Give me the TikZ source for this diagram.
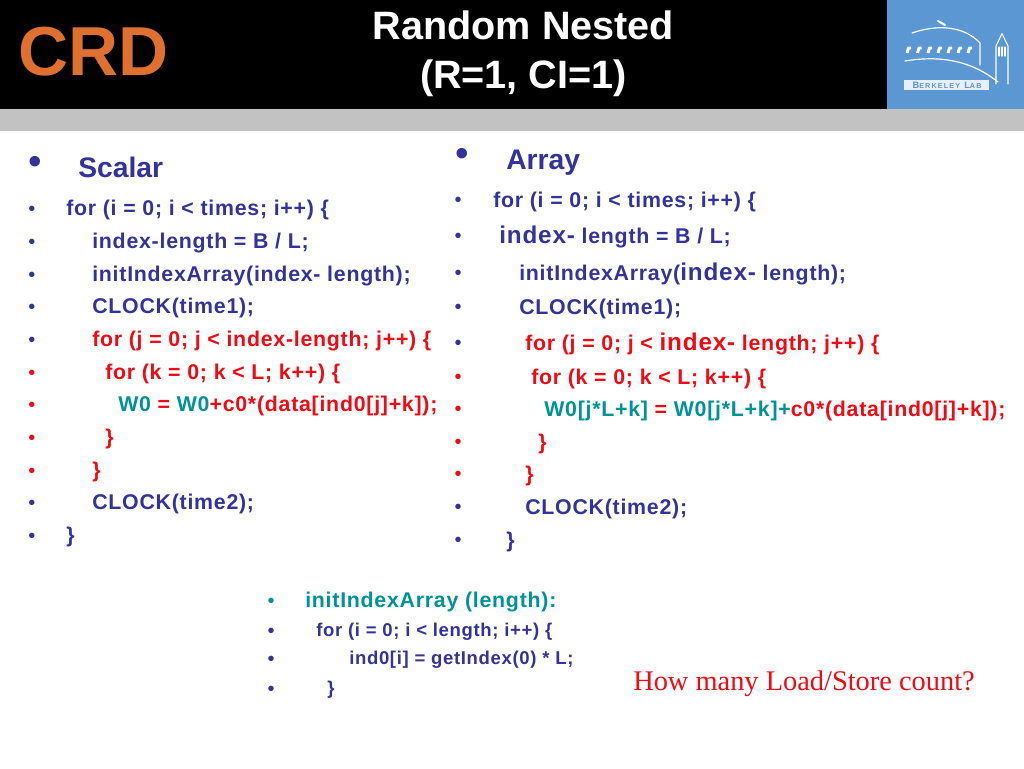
\documentclass[tikz,border=0pt]{standalone}
\usepackage{fontspec}
\setmainfont{Liberation Sans}
\newfontfamily\serifface{Liberation Serif}
\newfontfamily\codeface[LetterSpace=3.5]{Liberation Sans}
\newfontfamily\labface[LetterSpace=16]{Liberation Sans}
\definecolor{codeblue}{HTML}{333399}
\definecolor{codered}{HTML}{F00A14}
\definecolor{codeteal}{HTML}{009393}
\definecolor{crdorange}{HTML}{E0702F}
\definecolor{labblue}{HTML}{5B97D2}
\newcommand{\tl}[1]{\textcolor{codeteal}{#1}}
\newcommand{\bg}[1]{{\fontsize{18.2pt}{18pt}\selectfont #1}}
\newcommand{\sm}[1]{{\fontsize{5.4pt}{5.4pt}\selectfont #1}}
\tikzset{
  codetxt/.style={anchor=base west,inner sep=0pt,text=codeblue,font=\codeface\fontsize{16pt}{16pt}\selectfont\bfseries},
  redtxt/.style={codetxt,text=codered},
  smalltxt/.style={codetxt,font=\codeface\fontsize{13.9pt}{14pt}\selectfont\bfseries},
  headtxt/.style={codetxt,font=\fontsize{21.2pt}{21pt}\selectfont\bfseries},
  titletxt/.style={inner sep=0pt,anchor=base,text=white,font=\fontsize{29.7pt}{30pt}\selectfont\bfseries},
  dot/.style={anchor=center,inner sep=0pt,yshift=-2pt,font=\fontsize{15pt}{15pt}\selectfont},
  bigdot/.style={anchor=center,inner sep=0pt,yshift=-3pt,text=codeblue,font=\fontsize{29pt}{29pt}\selectfont},
  logoline/.style={draw=white,line cap=round,line join=round}
}
\begin{document}
\begin{tikzpicture}[x=0.75pt,y=0.75pt]
  \useasboundingbox (0,0) rectangle (1024,-768);
  \fill[white] (0,0) rectangle (1024,-768);
  % header
  \fill[black] (0,0) rectangle (887,-109);
  \fill[labblue] (887,0) rectangle (1024,-109);
  \fill[black!24] (0,-109) rectangle (1024,-131);
  \node[inner sep=0pt,anchor=base west,text=crdorange,font=\fontsize{52pt}{52pt}\selectfont\bfseries] (crd) at (18,-75) {CRD};
  \node[titletxt] (title1) at (523.5,-39) {Random Nested};
  \node[titletxt] (title2) at (523.5,-88.5) {(R=1, CI=1)};
  % lab logo
  \draw[logoline,line width=0.9pt] (912,-33) .. controls (938,-24) and (964,-26) .. (980,-43) -- (980,-65);
  \draw[logoline,line width=1.5pt] (938,-21) -- (945,-25);
  \draw[logoline,line width=0.9pt] (905,-61) .. controls (935,-56) and (968,-58) .. (998,-82);
  \foreach \xx in {907,917.5,928,938,948,958,968}
    \draw[logoline,line width=2.2pt,line cap=butt] (\xx,-53) -- (\xx+1.5,-48) -- (\xx+4,-48);
  \draw[logoline,line width=0.8pt] (996,-84) -- (996,-46) -- (1002,-33.5) -- (1008,-46) -- (1008,-84);
  \draw[logoline,line width=0.8pt] (999,-47) -- (999,-56) (1002,-47) -- (1002,-56) (1005,-47) -- (1005,-56);
  \fill[white!85!labblue] (904,-80) rectangle (989,-89.5);
  \node[inner sep=0pt,text=labblue,font=\labface\fontsize{7pt}{7pt}\selectfont\bfseries] (lab) at (947,-85) {B\sm{ERKELEY} L\sm{AB}};
  % left column
  \node[bigdot] (bs) at (35.5,-161) {\textbullet};
  \node[headtxt] (scalar) at (78,-177) {Scalar};
  \foreach \yy/\cc in {208/codeblue,241/codeblue,274/codeblue,306/codeblue,339/codeblue,372/codered,404/codered,437/codered,470/codered,502/codeblue,535/codeblue}
    \node[dot,text=\cc] (ls\yy) at (32,-\yy) {\textbullet};
  \node[codetxt] (s1) at (66,-215) {for (i = 0; i < times; i++) \{};
  \node[codetxt] (s2) at (92,-248) {index-length = B / L;};
  \node[codetxt] (s3) at (92,-281) {initIndexArray(index- length);};
  \node[codetxt] (s4) at (92,-313) {CLOCK(time1);};
  \node[redtxt] (s5) at (92,-346) {for (j = 0; j < index-length; j++) \{};
  \node[redtxt] (s6) at (105,-379) {for (k = 0; k < L; k++) \{};
  \node[redtxt] (s7) at (118,-411) {\tl{W0} = \tl{W0}+c0*(data[ind0[j]+k]);};
  \node[redtxt] (s8) at (105,-444) {\}};
  \node[redtxt] (s9) at (92,-477) {\}};
  \node[codetxt] (s10) at (92,-509) {CLOCK(time2);};
  \node[codetxt] (s11) at (66,-542) {\}};
  % right column
  \node[bigdot] (ba) at (462,-153) {\textbullet};
  \node[headtxt] (array) at (506,-169) {Array};
  \foreach \yy/\cc in {199/codeblue,235/codeblue,272/codeblue,306/codeblue,342/codeblue,376/codered,408/codered,441/codered,473/codered,506/codeblue,539/codeblue}
    \node[dot,text=\cc] (lr\yy) at (458,-\yy) {\textbullet};
  \node[codetxt] (a1) at (493,-207) {for (i = 0; i < times; i++) \{};
  \node[codetxt] (a2) at (499,-243) {\bg{index-} length = B / L;};
  \node[codetxt] (a3) at (519,-280) {initIndexArray(\bg{index-} length);};
  \node[codetxt] (a4) at (519,-314) {CLOCK(time1);};
  \node[redtxt] (a5) at (525,-350) {for (j = 0; j < \bg{index-} length; j++) \{};
  \node[redtxt] (a6) at (531,-384) {for (k = 0; k < L; k++) \{};
  \node[redtxt] (a7) at (544,-416) {\tl{W0[j*L+k]} = \tl{W0[j*L+k]+}c0*(data[ind0[j]+k]);};
  \node[redtxt] (a8) at (538,-449) {\}};
  \node[redtxt] (a9) at (525,-481) {\}};
  \node[codetxt] (a10) at (525,-514) {CLOCK(time2);};
  \node[codetxt] (a11) at (506,-547) {\}};
  % init block
  \foreach \yy/\cc in {600/codeteal,630/codeblue,658/codeblue,688/codeblue}
    \node[dot,text=\cc] (li\yy) at (271,-\yy) {\textbullet};
  \node[codetxt,text=codeteal] (i1) at (305,-607) {initIndexArray (length):};
  \node[smalltxt] (i2) at (316,-636.5) {for (i = 0; i < length; i++) \{};
  \node[smalltxt] (i3) at (349,-664.5) {ind0[i] = getIndex(0) * L;};
  \node[smalltxt] (i4) at (327,-694.5) {\}};
  \node[inner sep=0pt,anchor=base west,text=codered,font=\serifface\fontsize{21.3pt}{21pt}\selectfont] (howmany) at (633,-690) {How many Load/Store count?};
\end{tikzpicture}
\end{document}
